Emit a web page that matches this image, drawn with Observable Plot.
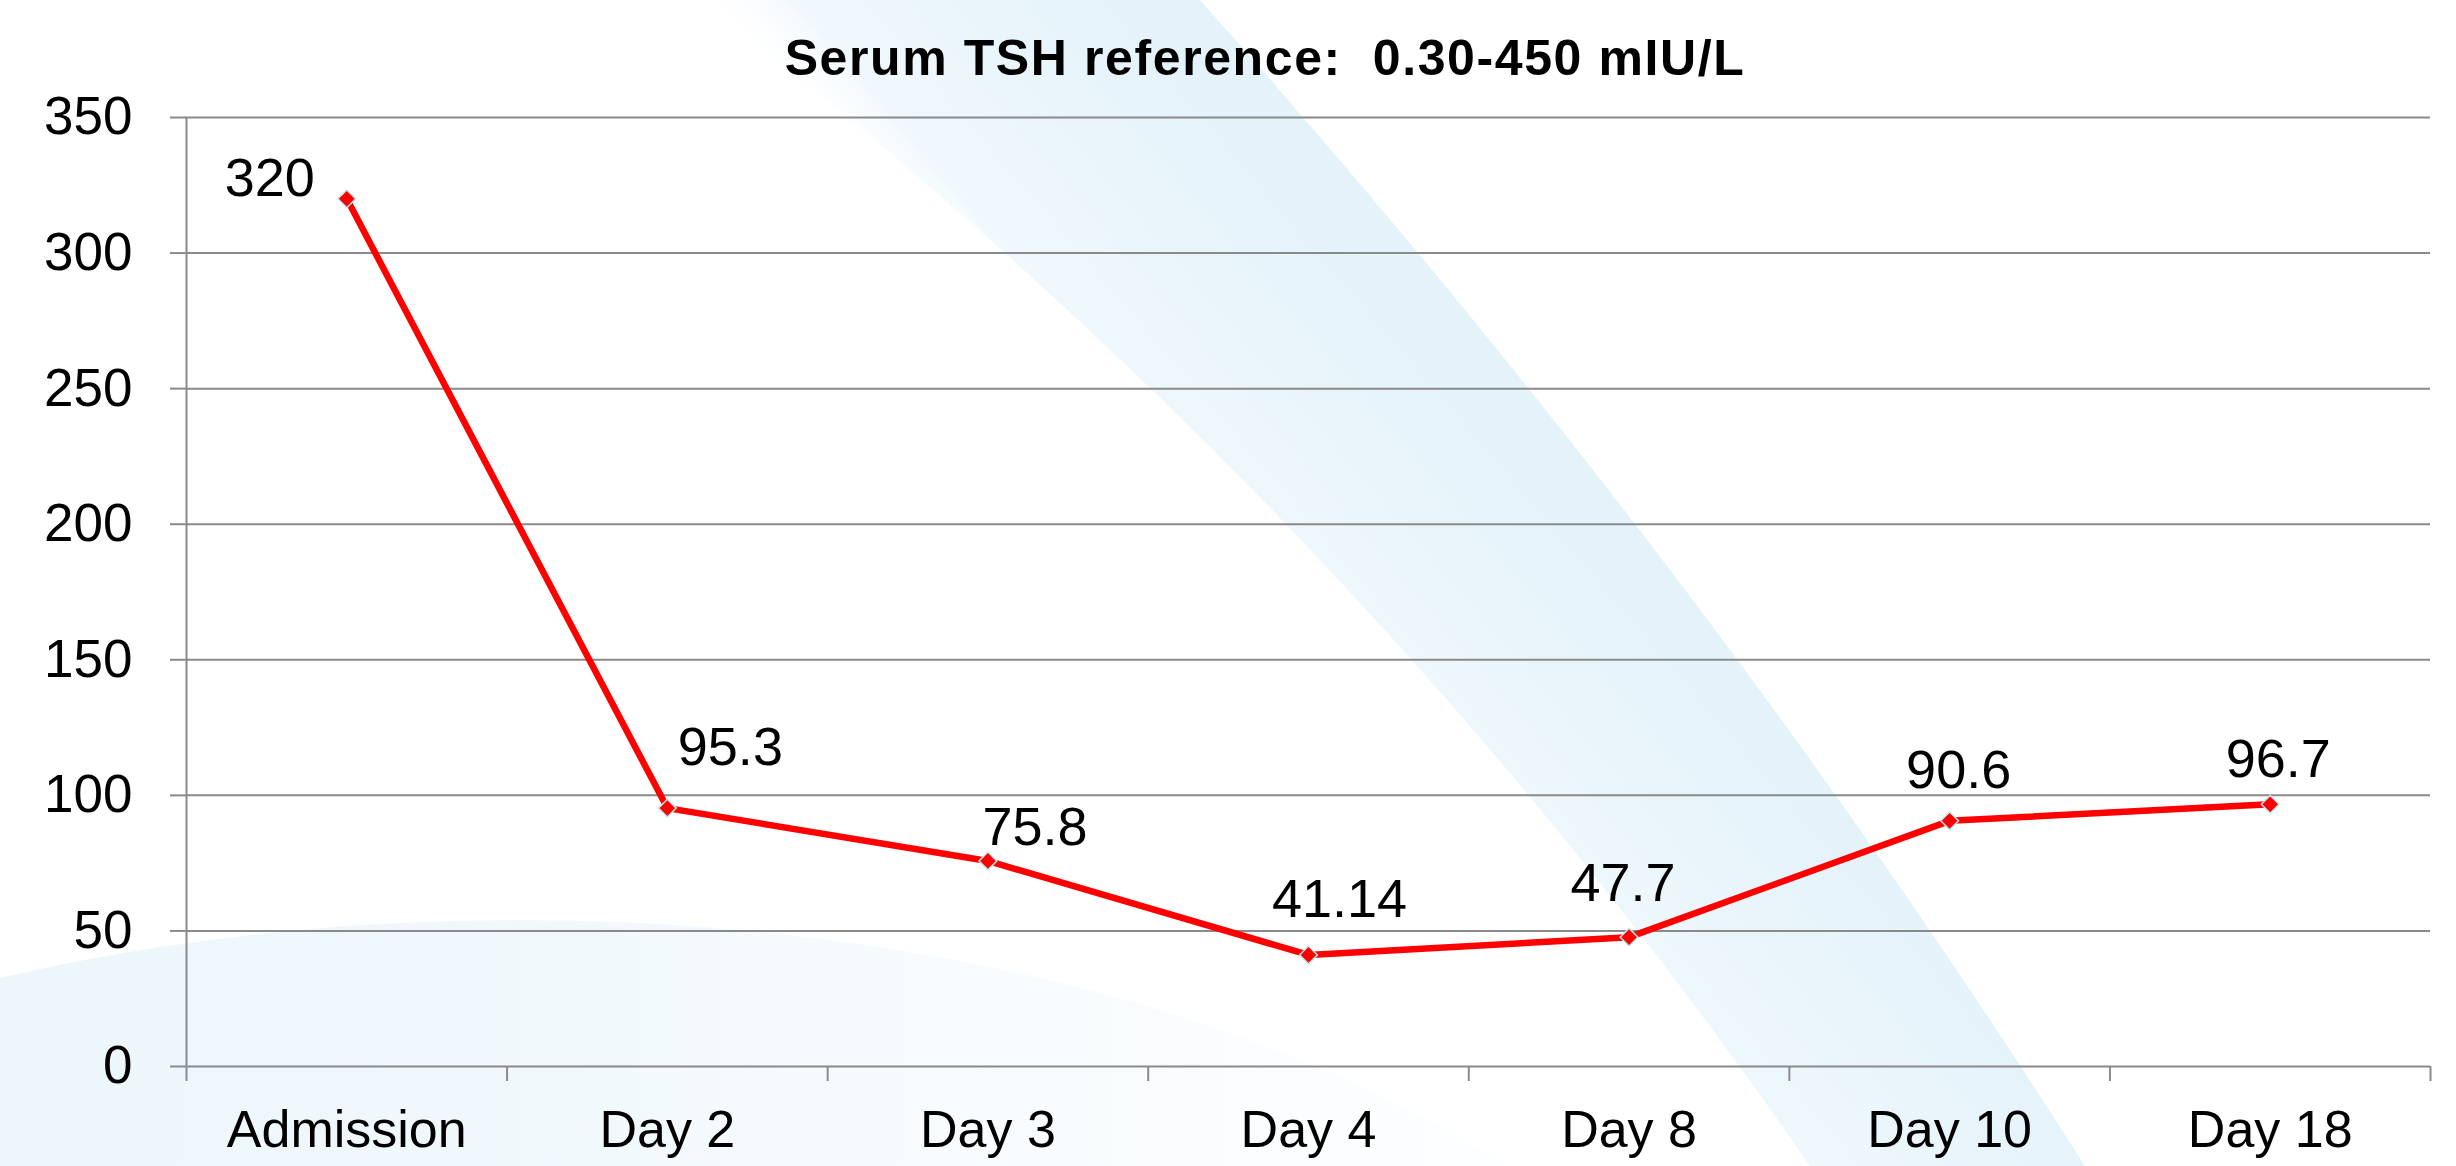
<!DOCTYPE html>
<html>
<head>
<meta charset="utf-8">
<script src="https://cdn.jsdelivr.net/npm/d3@7"></script>
<script src="https://cdn.jsdelivr.net/npm/@observablehq/plot@0.6"></script>
<style>
  html, body { margin: 0; padding: 0; background: #ffffff; }
  #page { position: relative; width: 2456px; height: 1166px; overflow: hidden;
          font-family: "Liberation Sans", Arial, sans-serif; }
  #bg { position: absolute; left: 0; top: 0; z-index: 0; }
  #chart { position: relative; z-index: 1; }
  #title { height: 90px; box-sizing: border-box; padding-top: 33px; padding-left: 74px;
           text-align: center; font-weight: bold; font-size: 50px; line-height: 50px;
           letter-spacing: 1.6px; white-space: pre; color: #000; }
</style>
</head>
<body>
<div id="page">
  <svg id="bg" width="2456" height="1166" viewBox="0 0 2456 1166">
    <defs>
      <linearGradient id="bandGrad" gradientUnits="userSpaceOnUse" x1="403" y1="-346" x2="660" y2="-566">
        <stop offset="0" stop-color="#ffffff" stop-opacity="0"/>
        <stop offset="0.22" stop-color="#eef7fc" stop-opacity="0.9"/>
        <stop offset="0.6" stop-color="#e9f5fb" stop-opacity="1"/>
        <stop offset="1" stop-color="#e4f2fa" stop-opacity="1"/>
      </linearGradient>
      <linearGradient id="arcGrad" x1="0" y1="0" x2="1" y2="0">
        <stop offset="0" stop-color="#e6f3fa" stop-opacity="1"/>
        <stop offset="0.5" stop-color="#eaf5fb" stop-opacity="0.7"/>
        <stop offset="1" stop-color="#f4f9fd" stop-opacity="0"/>
      </linearGradient>
    </defs>
    <path d="M 700 0 L 1200 0 Q 1700 560 2085 1166 L 1810 1166 Q 1350 500 700 0 Z" fill="url(#bandGrad)"/>
    <ellipse cx="520" cy="1560" rx="1250" ry="640" fill="url(#arcGrad)"/>
  </svg>
  <div id="chart">
    <div id="title">Serum TSH reference:  0.30-450 mIU/L</div>
  </div>
</div>
<script>
// ---- data ----
const days = ["Admission", "Day 2", "Day 3", "Day 4", "Day 8", "Day 10", "Day 18"];
const tshValues = [320, 95.3, 75.8, 41.14, 47.7, 90.6, 96.7];
const tshLabels = ["320", "95.3", "75.8", "41.14", "47.7", "90.6", "96.7"];
const yTicks = [0, 50, 100, 150, 200, 250, 300, 350];

// table for the library: category index -> centre of its slot
const rows = days.map((d, i) => ({ day: d, pos: i + 0.5, tsh: tshValues[i], label: tshLabels[i] }));

// label nudges (pixels, style only)
const nudges = [[-77, -20], [63, -60], [47, -33], [31, -55], [-6, -53], [9, -50], [8, -45]];

const grid = "#8a8a8a";
const labelMarks = rows.map((r, i) =>
  Plot.text([r], { x: "pos", y: "tsh", text: "label", dx: nudges[i][0], dy: nudges[i][1],
                   fontSize: 54, fill: "#000" }));

const chart = Plot.plot({
  width: 2456,
  height: 1076,
  marginLeft: 186,
  marginRight: 26,
  marginTop: 27,
  marginBottom: 100,
  style: { background: "transparent", fontFamily: "'Liberation Sans', Arial, sans-serif",
           fontSize: "52px", overflow: "visible", color: "#000" },
  x: { domain: [0, days.length] },
  y: { domain: [0, 350] },
  marks: [
    Plot.ruleY(yTicks, { stroke: grid, strokeWidth: 2 }),
    Plot.ruleX([0], { stroke: grid, strokeWidth: 2 }),
    Plot.axisY(yTicks, { label: null, tickSize: 16, tickPadding: 38, stroke: grid, strokeWidth: 2,
                          fill: "#000", fontSize: 53, tickFormat: d => String(d) }),
    Plot.axisX(d3.range(days.length + 1), { label: null, tickSize: 15, tickFormat: () => "",
                                            stroke: grid, strokeWidth: 2 }),
    Plot.axisX(rows.map(r => r.pos), { label: null, tickSize: 0, tickPadding: 44, fill: "#000",
                                       fontSize: 52, tickFormat: v => days[Math.floor(v)] }),
    Plot.line(rows, { x: "pos", y: "tsh", stroke: "#ff0000", strokeWidth: 6.5 }),
    Plot.dot(rows, { x: "pos", y: "tsh", symbol: "diamond2", r: 8, fill: "#ff0000",
                     stroke: "#bde8ee", strokeWidth: 1.5 }),
    ...labelMarks
  ]
});
document.getElementById("chart").appendChild(chart);
</script>
</body>
</html>
